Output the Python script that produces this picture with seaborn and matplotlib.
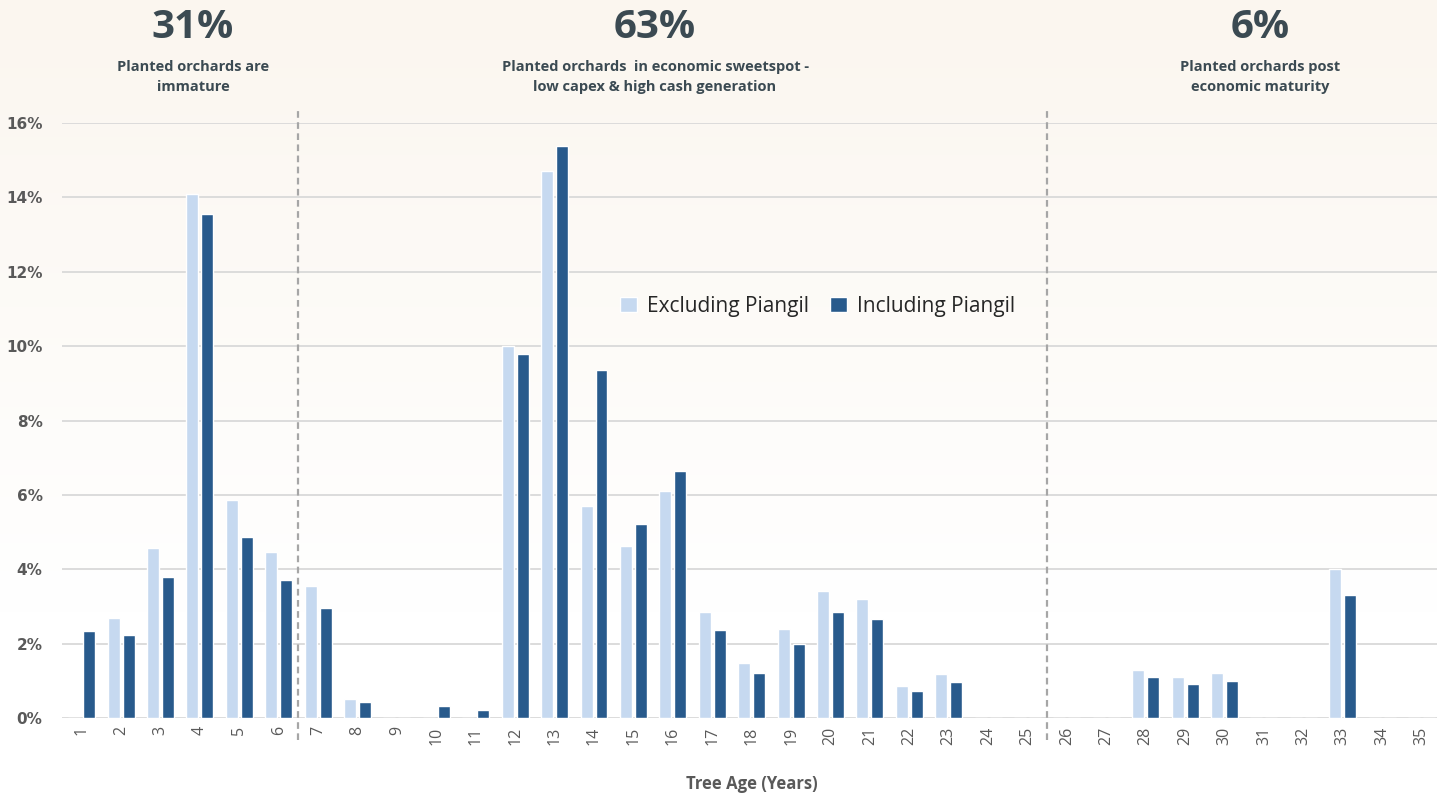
import numpy as np
import pandas as pd
import matplotlib.pyplot as plt
import seaborn as sns

sns.set_theme(style="white")
plt.rcParams['font.family'] = ['Open Sans', 'DejaVu Sans']

# Data (% of planted orchards by tree age)
ages = [str(a) for a in range(1, 36)]
excluding = [0.00, 2.68, 4.57, 14.09, 5.86, 4.46, 3.54, 0.51, 0.00, 0.00,
             0.00, 10.00, 14.70, 5.71, 4.62, 6.10, 2.85, 1.49, 2.38, 3.41,
             3.19, 0.85, 1.18, 0.00, 0.00, 0.00, 0.00, 1.29, 1.11, 1.20,
             0.00, 0.00, 4.00, 0.00, 0.00]
including = [2.34, 2.22, 3.80, 13.56, 4.87, 3.70, 2.95, 0.42, 0.00, 0.31,
             0.21, 9.78, 15.38, 9.35, 5.21, 6.63, 2.36, 1.22, 1.98, 2.85,
             2.65, 0.73, 0.98, 0.00, 0.00, 0.00, 0.00, 1.09, 0.91, 1.00,
             0.00, 0.00, 3.32, 0.00, 0.00]
series_names = ["Excluding Piangil", "Including Piangil"]
yticks = [0, 2, 4, 6, 8, 10, 12, 14, 16]

segments = [
    ("31%", "Planted orchards are\nimmature", 193),
    ("63%", "Planted orchards  in economic sweetspot -\nlow capex & high cash generation", 655),
    ("6%", "Planted orchards post\neconomic maturity", 1260),
]
dividers = [5.5, 24.5]

df = pd.DataFrame({
    "age": ages * 2,
    "value": excluding + including,
    "series": [series_names[0]] * len(ages) + [series_names[1]] * len(ages),
})

W, H = 1437, 795
fig = plt.figure(figsize=(W / 100, H / 100), dpi=100)

# warm gradient background
bg = fig.add_axes([0, 0, 1, 1], zorder=-10)
grad = np.linspace(0, 1, 256)[:, None]
top_col = np.array([251, 246, 239]) / 255
bot_col = np.array([255, 255, 255]) / 255
mix = np.clip(grad * 1.3, 0, 1)
img = top_col * (1 - mix[..., None]) + bot_col * mix[..., None]
img = np.repeat(img, 2, axis=1)
bg.imshow(img, aspect='auto', extent=[0, 1, 0, 1], origin='upper')
bg.axis('off')

ax = fig.add_axes([62 / W, 1 - 718 / H, (W - 62) / W + 0.003, (718 - 123) / H])
ax.patch.set_alpha(0)

sns.barplot(data=df, x="age", y="value", hue="series", ax=ax,
            palette=["#C6D9F0", "#285A8C"], width=0.76, gap=0.2,
            saturation=1, zorder=3)

ax.set_ylim(0, 16)
ax.set_xlim(-0.5, 34.5)
ax.set_yticks(yticks)
ax.set_yticklabels([f"{t}%" for t in yticks], fontsize=11, fontweight='bold',
                   color='#595959', family=['DejaVu Sans'])
ax.yaxis.grid(True, color='#D9D9D9', linewidth=1.3, zorder=0)
ax.set_axisbelow(True)
ax.tick_params(axis='x', labelrotation=90, labelsize=11.5, colors='#595959',
               length=0, pad=6)
ax.tick_params(axis='y', length=0, pad=14)
for s in ax.spines.values():
    s.set_visible(False)

ax.set_xlabel("Tree Age (Years)", fontsize=12, fontweight='bold', color='#595959',
              labelpad=22)
ax.set_ylabel("")

for d in dividers:
    ax.axvline(d, ymin=-0.037, ymax=1.025, color='#A6A6A6', linestyle=(0, (3, 2)),
               linewidth=1.6, clip_on=False, zorder=4)

leg = ax.legend(loc='center', bbox_to_anchor=(0.548, 0.692), ncol=2, frameon=False,
                fontsize=15, handlelength=0.8, handleheight=0.8, handletextpad=0.5,
                columnspacing=1.0)
for t in leg.get_texts():
    t.set_color('#262626')

for big, small, xc in segments:
    fig.text(xc / W, 1 - 28 / H, big, ha='center', va='center', fontsize=29,
             fontweight='bold', color='#3B4A52')
    fig.text(xc / W, 1 - 77 / H, small, ha='center', va='center', fontsize=10.5,
             fontweight='bold', color='#3B4A52', linespacing=1.6)

fig.savefig("out.png", dpi=100)
